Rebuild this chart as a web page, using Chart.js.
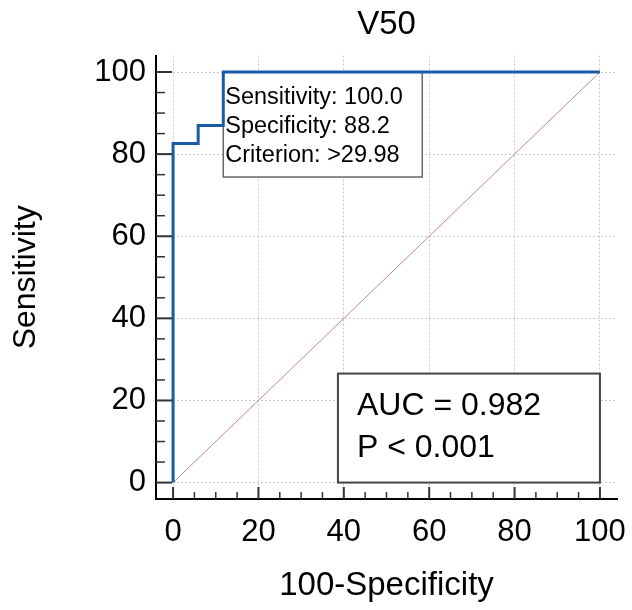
<!DOCTYPE html>
<html>
<head>
<meta charset="utf-8">
<script src="https://cdn.jsdelivr.net/npm/chart.js@4"></script>
<style>
  html, body { margin: 0; padding: 0; background: #fff; }
</style>
</head>
<body>
<canvas id="roc" width="632" height="610"></canvas>
<script>
const FONT = "'Liberation Sans', Arial, sans-serif";

// ROC curve (100-specificity vs sensitivity)
const rocFpr = [0, 0, 5.88, 11.76, 100];
const rocTpr = [0, 82.6, 87.0, 100, 100];
// reference diagonal
const diagX = [0, 100];
const diagY = [0, 100];

const xTicks = [0, 20, 40, 60, 80, 100];
const yTicks = [0, 20, 40, 60, 80, 100];
const minorStep = 5;

const cutoffPoint = [11.76, 100];
const cutoffLines = ['Sensitivity: 100.0', 'Specificity: 88.2', 'Criterion: >29.98'];
const aucLines = ['AUC = 0.982', 'P < 0.001'];

function drawBox(ctx, left, top, w, h, stroke, lw) {
  ctx.save();
  ctx.fillStyle = '#fff';
  ctx.fillRect(left, top, w, h);
  ctx.strokeStyle = stroke;
  ctx.lineWidth = lw;
  ctx.strokeRect(left, top, w, h);
  ctx.restore();
}

// the two text boxes sit under the curves, over the grid
const boxes = {
  id: 'boxes',
  beforeDatasetsDraw(chart) {
    const { ctx, scales: { x, y } } = chart;

    const bx = x.getPixelForValue(cutoffPoint[0]);
    const by = y.getPixelForValue(cutoffPoint[1]);
    drawBox(ctx, bx, by, 199, 105, '#666', 1.5);
    ctx.save();
    ctx.fillStyle = '#000';
    ctx.font = '23.5px ' + FONT;
    ctx.textBaseline = 'middle';
    cutoffLines.forEach((t, i) => ctx.fillText(t, bx + 2, by + 25 + i * 29));
    ctx.restore();

    const right = x.getPixelForValue(100);
    const bottom = y.getPixelForValue(0);
    const left = right - 262, top = bottom - 109;
    drawBox(ctx, left, top, 262, 109, '#444', 2);
    ctx.save();
    ctx.fillStyle = '#000';
    ctx.font = '32px ' + FONT;
    ctx.textBaseline = 'middle';
    aucLines.forEach((t, i) => ctx.fillText(t, left + 19, top + 33 + i * 42));
    ctx.restore();
  }
};

// major and minor tick marks pointing into the plot
const innerTicks = {
  id: 'innerTicks',
  afterDraw(chart) {
    const { ctx, chartArea, scales: { x, y } } = chart;
    ctx.save();
    ctx.strokeStyle = '#333';
    for (let v = 0; v <= 100; v += minorStep) {
      const major = v % 20 === 0;
      ctx.lineWidth = major ? 2 : 1.5;
      const px = x.getPixelForValue(v);
      ctx.beginPath();
      ctx.moveTo(px, chartArea.bottom);
      ctx.lineTo(px, chartArea.bottom - (major ? 12 : 7));
      ctx.stroke();
      const py = y.getPixelForValue(v);
      ctx.beginPath();
      ctx.moveTo(chartArea.left, py);
      ctx.lineTo(chartArea.left + (major ? 16 : 9), py);
      ctx.stroke();
    }
    ctx.restore();
  }
};

const grid = { color: '#c8c8c8', lineWidth: 1, drawTicks: false };
const border = { display: true, color: '#000', width: 2, dash: [2, 2] };

new Chart(document.getElementById('roc'), {
  type: 'line',
  data: {
    datasets: [
      {
        label: 'ROC',
        data: rocFpr.map((v, i) => ({ x: v, y: rocTpr[i] })),
        borderColor: '#1b5aa6',
        borderWidth: 3,
        stepped: 'before',
        pointRadius: 0,
        fill: false
      },
      {
        label: 'Reference',
        data: diagX.map((v, i) => ({ x: v, y: diagY[i] })),
        borderColor: '#c08a8a',
        borderWidth: 1,
        pointRadius: 0,
        fill: false
      }
    ]
  },
  options: {
    responsive: false,
    animation: false,
    events: [],
    layout: { padding: { left: 0, right: 15, top: 0, bottom: 0 } },
    plugins: {
      legend: { display: false },
      tooltip: { enabled: false },
      title: {
        display: true,
        text: 'V50',
        fullSize: false,
        color: '#000',
        font: { family: FONT, size: 33, weight: 'normal' },
        padding: { top: 5, bottom: 11 }
      }
    },
    scales: {
      x: {
        type: 'linear',
        min: -4,
        max: 104,
        afterBuildTicks: s => { s.ticks = xTicks.map(v => ({ value: v })); },
        afterFit: s => { s.height = 111; s.paddingLeft = 0; s.paddingRight = 0; },
        grid: grid,
        border: border,
        ticks: {
          color: '#000',
          padding: 15,
          autoSkip: false,
          maxRotation: 0,
          font: { family: FONT, size: 31 }
        },
        title: {
          display: true,
          text: '100-Specificity',
          color: '#000',
          font: { family: FONT, size: 33 },
          padding: { top: 0, bottom: 4 }
        }
      },
      y: {
        type: 'linear',
        min: -4,
        max: 104,
        afterBuildTicks: s => { s.ticks = yTicks.map(v => ({ value: v })); },
        afterFit: s => { s.width = 156; s.paddingTop = 0; s.paddingBottom = 0; },
        grid: grid,
        border: border,
        ticks: {
          color: '#000',
          padding: 10,
          autoSkip: false,
          font: { family: FONT, size: 31 }
        },
        title: {
          display: true,
          text: 'Sensitivity',
          color: '#000',
          font: { family: FONT, size: 32 },
          padding: { top: 7, bottom: 0 }
        }
      }
    }
  },
  plugins: [boxes, innerTicks]
});
</script>
</body>
</html>
